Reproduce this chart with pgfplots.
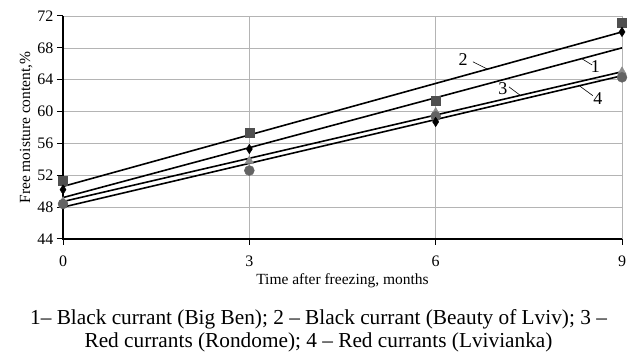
\documentclass[border=0pt]{standalone}
\usepackage{pgfplots}
\pgfplotsset{compat=1.18}
\usepackage{fontspec}
\setmainfont{Liberation Serif}
\definecolor{gridc}{HTML}{B4B4B4}
\definecolor{sqc}{HTML}{4F4F4F}
\definecolor{trc}{HTML}{8C8C8C}
\definecolor{cic}{HTML}{636363}
\begin{document}
\begin{tikzpicture}[x=1pt,y=1pt]
\path[use as bounding box] (0,0) rectangle (637,356);
\begin{axis}[
  at={(63pt,117pt)}, anchor=south west,
  scale only axis, width=559pt, height=223pt,
  xmin=0, xmax=9, ymin=44, ymax=72,
  xtick={0,3,6,9}, ytick={44,48,...,72},
  grid=major, grid style={gridc, line width=0.7pt},
  axis line style={draw=none},
  tick style={black, line width=1pt},
  tick align=outside, major tick length=6pt,
  xtick pos=bottom, ytick pos=left,
  /pgf/number format/assume math mode=true,
  ticklabel style={font=\fontsize{16}{16}\selectfont},
  xticklabel style={yshift=-7pt},
  xlabel={Time after freezing, months},
  ylabel={Free moisture content,\%},
  label style={font=\fontsize{15.5}{16}\selectfont},
  xlabel style={yshift=0pt},
  ylabel style={yshift=-2pt},
  clip=false,
]
% frame
\draw[gridc, line width=0.8pt] (axis cs:0,72) -- (axis cs:9,72) -- (axis cs:9,44);
\draw[black, line width=1.3pt] (axis cs:0,72) -- (axis cs:0,44) -- (axis cs:9,44);
% data markers
\addplot[only marks, mark=triangle*, mark size=5pt, color=trc] coordinates {(0,48.7) (3,53.8) (6,59.9) (9,65.0)};
\addplot[only marks, mark=*, mark size=5pt, color=cic] coordinates {(0,48.4) (3,52.6) (6,59.4) (9,64.3)};
\addplot[only marks, mark=square*, mark size=4.4pt, color=sqc] coordinates {(0,51.3) (3,57.3) (6,61.4) (9,71.2)};
\addplot[only marks, mark=diamond*, mark size=4.8pt, mark options={xscale=0.85}, color=black] coordinates {(0,50.2) (3,55.3) (6,58.7) (9,70.0)};
% trend lines
\addplot[black, line width=1.6pt] coordinates {(0,49.2) (9,68.0)};
\addplot[black, line width=1.6pt] coordinates {(0,50.6) (9,70.0)};
\addplot[black, line width=1.6pt] coordinates {(0,48.7) (9,65.0)};
\addplot[black, line width=1.6pt] coordinates {(0,48.0) (9,64.5)};
% labels
\node[font=\fontsize{18}{18}\selectfont] at (axis cs:6.44,66.5) {2};
\draw[black, line width=0.6pt] (axis cs:6.60,66.25) -- (axis cs:6.84,65.3);
\node[font=\fontsize{18}{18}\selectfont] at (axis cs:8.57,65.6) {1};
\draw[black, line width=0.6pt] (axis cs:8.35,66.65) -- (axis cs:8.52,65.85);
\node[font=\fontsize{18}{18}\selectfont] at (axis cs:7.08,62.85) {3};
\draw[black, line width=0.6pt] (axis cs:7.18,63.1) -- (axis cs:7.36,62.05);
\node[font=\fontsize{18}{18}\selectfont] at (axis cs:8.61,61.6) {4};
\draw[black, line width=0.6pt] (axis cs:8.32,63.2) -- (axis cs:8.53,62.0);
\end{axis}
\node[align=center, font=\fontsize{21.3}{22.5}\selectfont] at (318.5,25) {1– Black currant (Big Ben); 2 – Black currant (Beauty of Lviv); 3 –\\Red currants (Rondome); 4 – Red currants (Lvivianka)};
\end{tikzpicture}
\end{document}
